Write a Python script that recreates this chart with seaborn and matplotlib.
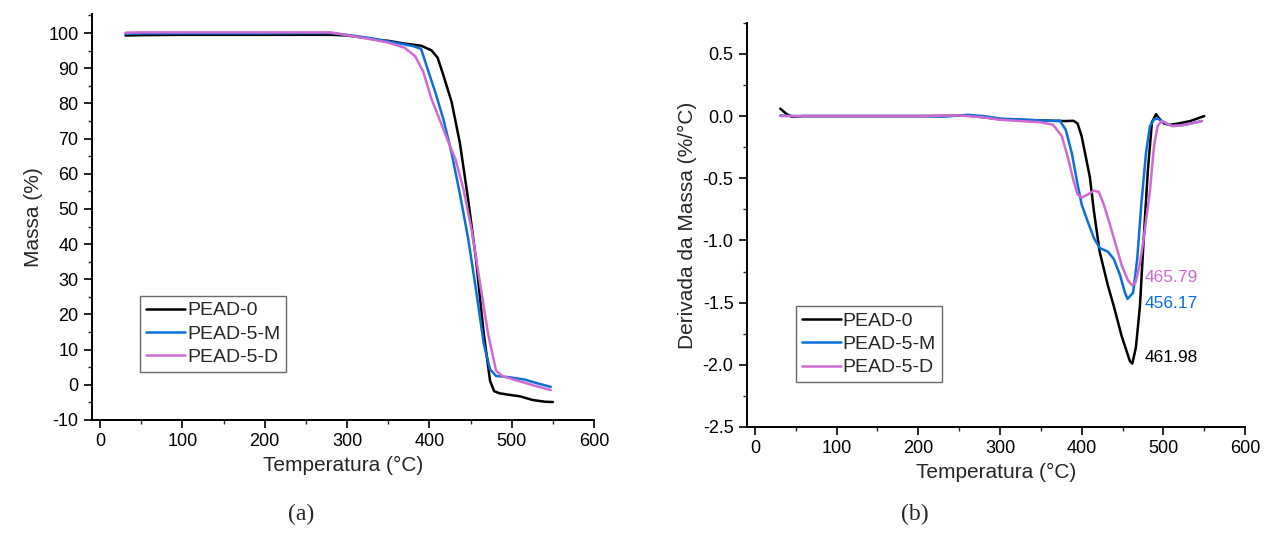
import numpy as np
import pandas as pd
import seaborn as sns
import matplotlib.pyplot as plt
from matplotlib.ticker import MultipleLocator

sns.set_style('ticks')
plt.rcParams['font.family'] = ['Liberation Sans', 'DejaVu Sans']
plt.rcParams['axes.unicode_minus'] = False

# --- TGA (a) ---
tga_t0 = [31, 50, 100, 150, 200, 250, 280, 300, 320, 340, 350, 370, 390, 402.5, 410, 417, 427, 437, 446.7,
          456.5, 466, 473.7, 478.6, 485, 495.8, 510.6, 525, 540, 550]
tga_m0 = [99.3, 99.4, 99.5, 99.5, 99.5, 99.5, 99.5, 99.3, 98.7, 98.0, 97.8, 97.0, 96.4, 95.1, 93.0, 88.0, 80.4,
          68.8, 53.3, 35.9, 14.6, 1.1, -1.8, -2.4, -2.8, -3.3, -4.3, -4.8, -4.9]

tga_tM = [31, 50, 100, 150, 200, 250, 280, 300, 330, 360, 380, 390, 397.5, 407, 417, 427, 437, 447, 456.5,
          466, 473.7, 481, 495.8, 515.5, 530, 547.4]
tga_mM = [99.8, 99.9, 99.9, 99.9, 99.9, 100.0, 100.0, 99.5, 98.5, 97.2, 96.3, 95.5, 90.0, 83.3, 75.5, 65.9,
          54.3, 41.7, 27.2, 11.7, 4.4, 2.5, 2.2, 1.5, 0.5, -0.6]

tga_tD = [31, 50, 100, 150, 200, 250, 280, 300, 330, 350, 370, 382.8, 392.6, 402.5, 412.3, 422, 432, 441.8,
          451.6, 461.4, 471.2, 481, 488.5, 498, 515.5, 530, 547.4]
tga_mD = [100.1, 100.2, 100.2, 100.2, 100.2, 100.2, 100.2, 99.4, 98.2, 97.3, 95.8, 93.4, 89.0, 81.3, 75.5,
          69.7, 63.9, 55.2, 43.6, 29.1, 14.6, 4.0, 2.5, 1.8, 0.6, -0.4, -1.5]

# --- DTG (b) ---
dtg_t0 = [31, 38, 45, 60, 100, 150, 200, 250, 260, 280, 300, 350, 380, 390, 395, 400, 410, 414.9, 422, 432,
          439.4, 449, 459, 461.98, 466.4, 471.3, 476, 481, 486, 491, 496, 501, 508, 518, 533, 550]
dtg_d0 = [0.06, 0.02, -0.005, 0.0, 0.0, 0.0, 0.0, 0.003, 0.005, -0.01, -0.025, -0.035, -0.04, -0.038, -0.06,
          -0.163, -0.49, -0.76, -1.09, -1.36, -1.53, -1.77, -1.97, -1.99, -1.86, -1.53, -0.98, -0.44, -0.05,
          0.015, -0.027, -0.06, -0.07, -0.06, -0.04, 0.0]

dtg_tM = [31, 50, 100, 150, 200, 230, 260, 280, 300, 350, 370, 373, 380.5, 388, 395, 400, 407.5, 415, 422,
          432, 439.4, 447, 453, 456.17, 463, 468, 473, 478.7, 483.6, 488.5, 493, 498, 505.7, 513, 528, 547]
dtg_dM = [0.005, 0.0, 0.0, 0.0, 0.0, -0.005, 0.01, 0.0, -0.02, -0.035, -0.04, -0.035, -0.11, -0.30, -0.55,
          -0.71, -0.85, -0.98, -1.06, -1.09, -1.15, -1.28, -1.42, -1.47, -1.42, -1.15, -0.71, -0.30, -0.08,
          -0.027, -0.02, -0.04, -0.068, -0.08, -0.068, -0.04]

dtg_tD = [31, 50, 100, 150, 200, 250, 280, 300, 350, 365, 368, 375.6, 383, 390, 395, 400, 407.5, 415, 421,
          427, 434.5, 442, 449, 456.6, 461.5, 465.79, 471, 476, 483.6, 488.5, 493, 498, 503, 510.6, 523, 547]
dtg_dD = [0.0, 0.0, 0.0, 0.0, 0.0, 0.005, -0.01, -0.03, -0.05, -0.07, -0.095, -0.16, -0.33, -0.52, -0.63,
          -0.655, -0.63, -0.60, -0.61, -0.71, -0.87, -1.04, -1.20, -1.32, -1.36, -1.34, -1.20, -0.98, -0.60,
          -0.245, -0.08, -0.04, -0.054, -0.08, -0.075, -0.04]

names = ['PEAD-0', 'PEAD-5-M', 'PEAD-5-D']
colors = ['#000000', '#0a6fd6', '#d06ad2']
peaks = ['461.98', '456.17', '465.79']
peak_y = [-1.94, -1.505, -1.296]

fig = plt.figure(figsize=(12.64, 5.34), dpi=100)
ax1 = fig.add_axes([0.0726, 0.2135, 0.3974, 0.7595])
ax2 = fig.add_axes([0.5908, 0.2004, 0.3942, 0.7569])

tga = [(tga_t0, tga_m0), (tga_tM, tga_mM), (tga_tD, tga_mD)]
dtg = [(dtg_t0, dtg_d0), (dtg_tM, dtg_dM), (dtg_tD, dtg_dD)]

for (t, m), name, c in zip(tga, names, colors):
    sns.lineplot(x=t, y=m, ax=ax1, color=c, lw=1.8, label=name)
for (t, d), name, c in zip(dtg, names, colors):
    sns.lineplot(x=t, y=d, ax=ax2, color=c, lw=1.8, label=name)

for txt, yv, c in zip(peaks, peak_y, colors):
    ax2.text(477, yv, txt, color=c, fontsize=12.5, va='center', ha='left')

ax1.set_xlim(-10, 600)
ax1.set_ylim(-10, 105.3)
ax1.xaxis.set_major_locator(MultipleLocator(100))
ax1.xaxis.set_minor_locator(MultipleLocator(50))
ax1.yaxis.set_major_locator(MultipleLocator(10))
ax1.yaxis.set_minor_locator(MultipleLocator(5))
ax1.set_ylabel('Massa (%)', fontsize=15)

ax2.set_xlim(-10, 600)
ax2.set_ylim(-2.5, 0.75)
ax2.xaxis.set_major_locator(MultipleLocator(100))
ax2.xaxis.set_minor_locator(MultipleLocator(50))
ax2.yaxis.set_major_locator(MultipleLocator(0.5))
ax2.yaxis.set_minor_locator(MultipleLocator(0.25))
ax2.yaxis.set_major_formatter(plt.FuncFormatter(lambda v, p: '{:.1f}'.format(v)))
ax2.set_ylabel('Derivada da Massa (%/°C)', fontsize=15)

for ax in (ax1, ax2):
    sns.despine(ax=ax)
    ax.set_xlabel('Temperatura (°C)', fontsize=15)
    ax.tick_params(which='major', length=6, width=1.2, labelsize=13, colors='black')
    ax.tick_params(which='minor', length=3, width=1.0)
    for s in ('left', 'bottom'):
        ax.spines[s].set_linewidth(1.4)
        ax.spines[s].set_color('black')

leg_kw = dict(fontsize=14, frameon=True, fancybox=False, edgecolor='#444444', handlelength=2.0,
              handletextpad=0.1, borderpad=0.3, labelspacing=0.3, borderaxespad=0)
l1 = ax1.legend(loc='upper left', bbox_to_anchor=(0.097, 0.306), **leg_kw)
l2 = ax2.legend(loc='upper left', bbox_to_anchor=(0.099, 0.299), **leg_kw)
for l in (l1, l2):
    l.get_frame().set_linewidth(1.0)

fig.text(0.238, 0.027, '(a)', fontsize=17, family=['Liberation Serif', 'DejaVu Serif'], ha='center')
fig.text(0.724, 0.027, '(b)', fontsize=17, family=['Liberation Serif', 'DejaVu Serif'], ha='center')

fig.savefig('out.png', dpi=100)
